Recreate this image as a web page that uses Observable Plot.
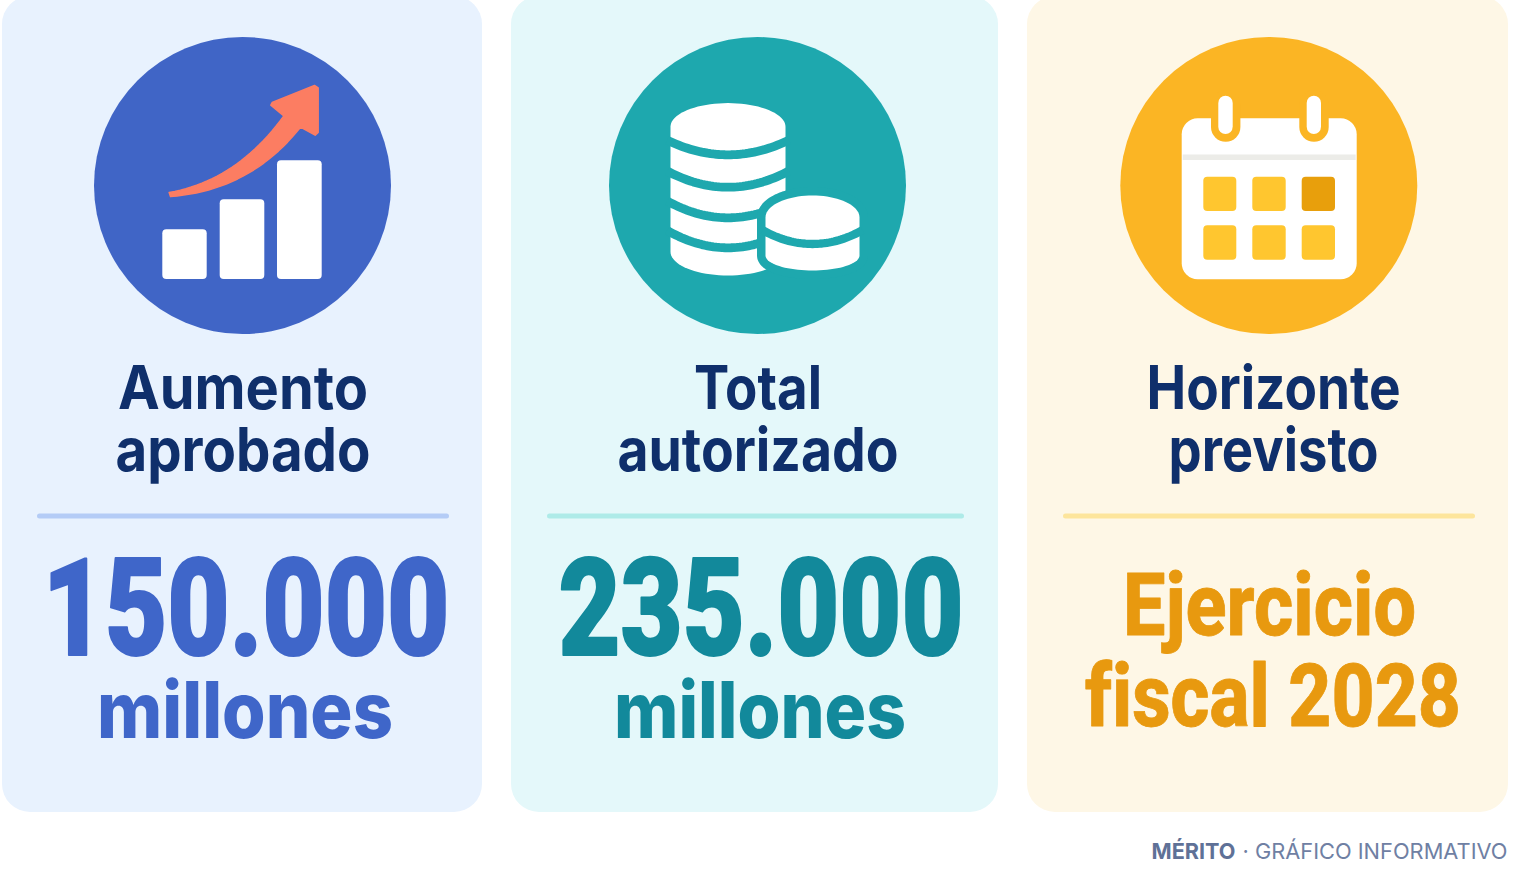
<!DOCTYPE html>
<html lang="es">
<head>
<meta charset="utf-8">
<title>Mérito</title>
<style>html,body{margin:0;padding:0;background:#fff;overflow:hidden}svg{display:block}svg text{font-variant-ligatures:none}</style>
<script src="https://cdn.jsdelivr.net/npm/d3@7"></script>
<script src="https://cdn.jsdelivr.net/npm/@observablehq/plot@0.6"></script>
</head>
<body>
<div id="chart"></div>
<script>
// ---- content ----
const titleFirst = ["Aumento", "Total", "Horizonte"];
const titleSecond = ["aprobado", "autorizado", "previsto"];
const bigValues = ["150.000", "235.000"];
const bigUnits = ["millones", "millones"];
const horizonLines = ["Ejercicio", "fiscal 2028"];
const footerBrand = "MÉRITO";
const footerRest = "· GRÁFICO INFORMATIVO";

// ---- layout and colour ----
const cardX = [[2, 482], [511, 998], [1027, 1508]];
const cardFill = ["#e8f2fe", "#e4f8fa", "#fef7e6"];
const circleX = [242, 757, 1268.3];
const circleFill = ["#4065c6", "#1ea8ae", "#fbb524"];
const ruleX = [[37, 449], [547, 964], [1063, 1475]];
const ruleFill = ["#b4ccf6", "#aeebe8", "#fde59c"];
const titleX = [242.5, 757.5, 1273];
const titleW1 = [250, 128, 254];
const titleW2 = [255, 281, 210];
const valueX = [245.5, 760.5];
const valueW = [407, 405];
const unitX = [244.5, 759.5];
const unitW = [296, 292];
const valueFill = ["#3f66c9", "#12899b"];
const horizonFill = "#e8990f";
const horizonX = [1269, 1272.5];
const horizonY = [634, 725];
const horizonW = [293, 376];
const navy = "#0f2f6b";

const fz = (ox, oy, pts) => pts.map(([x, y]) => ({x: ox + x / 3, y: oy + y / 3}));
const bez = (a, c, b) => d3.range(0, 25).map(i => {
  const t = i / 24, u = 1 - t;
  return [u * u * a[0] + 2 * u * t * c[0] + t * t * b[0], u * u * a[1] + 2 * u * t * c[1] + t * t * b[1]];
});
const arrowOutline = [
  ...bez([236, 486], [440, 450], [580, 256]),
  [541, 224], [545, 216], [672, 165], [683, 172], [683, 306], [674, 314],
  ...bez([630, 290], [480, 480], [240, 498])
];
const iconBarsX = [[162.3, 206.7], [219.7, 264.3], [277, 321.7]];
const iconBarsTop = [229.3, 199.3, 160.3];
const calCols = [[1203.3, 1236.3], [1252.3, 1285.7], [1301.7, 1335]];
const calRows = [[176.7, 211], [225.3, 259.7]];
const calCells = calRows.flatMap((r, j) => calCols.map((c, i) => ({x1: c[0], x2: c[1], y1: r[0], y2: r[1], f: (i === 2 && j === 0) ? "#e89f0c" : "#ffc62f"})));

const arc = (cx, cy, rx, ry, a0, a1) => d3.range(0, 41).map(i => {
  const a = a0 + (a1 - a0) * i / 40;
  return {x: cx + rx * Math.cos(a), y: cy + ry * Math.sin(a)};
});
const cylinder = (cx, top, bottom, rx, ryTop, ryBottom) => [
  ...arc(cx, top, rx, ryTop, Math.PI, 2 * Math.PI),
  ...arc(cx, bottom, rx, ryBottom, 0, Math.PI)
];
const band = (cx, rx, edge, centre) => d3.range(-21, 22).map(i => {
  const t = i / 20;
  return {x: cx + rx * t, y: edge + (centre - edge) * (1 - t * t)};
});

// ---- mark helpers ----
const box = (rows, o = {}) => Plot.rect(rows, {x1: "x1", x2: "x2", y1: "y1", y2: "y2", fill: "f", ...o});
const shape = (pts, o = {}) => Plot.line(pts, {x: "x", y: "y", curve: "linear-closed", strokeLinejoin: "round", ...o});
const strokeArc = (pts, stroke, strokeWidth) => Plot.line(pts, {x: "x", y: "y", stroke, strokeWidth, strokeLinecap: "butt", fill: "none"});
const words = (rows, o) => Plot.text(rows, {
  x: "x", y: "y", text: "t", fill: "f", lineAnchor: "bottom", textAnchor: "middle", ...o,
  render(index, scales, values, dims, ctx, next) {
    const g = next(index, scales, values, dims, ctx);
    d3.select(g).selectAll("text").each(function(_, i) {
      this.setAttribute("textLength", rows[index[i]].w);
      this.setAttribute("lengthAdjust", "spacingAndGlyphs");
    });
    return g;
  }
});

const titleRows = [
  ...titleFirst.map((t, i) => ({t, x: titleX[i], y: 408, w: titleW1[i], f: navy})),
  ...titleSecond.map((t, i) => ({t, x: titleX[i], y: 470, w: titleW2[i], f: navy}))
];
const valueRows = bigValues.map((t, i) => ({t, x: valueX[i], y: 654, w: valueW[i], f: valueFill[i]}));
const unitRows = bigUnits.map((t, i) => ({t, x: unitX[i], y: 737, w: unitW[i], f: valueFill[i]}));
const horizonRows = horizonLines.map((t, i) => ({t, x: horizonX[i], y: horizonY[i], w: horizonW[i], f: horizonFill}));

const chart = Plot.plot({
  width: 1536, height: 896,
  marginTop: 0, marginRight: 0, marginBottom: 0, marginLeft: 0,
  x: {domain: [0, 1536], range: [0, 1536], axis: null},
  y: {domain: [0, 896], range: [0, 896], axis: null},
  color: {type: "identity"},
  style: {background: "#fff"},
  marks: [
    box(cardX.map((c, i) => ({x1: c[0], x2: c[1], y1: -4, y2: 812, f: cardFill[i]})), {rx: 28}),
    Plot.dot(circleX.map((x, i) => ({x, f: circleFill[i]})), {x: "x", y: () => 185, r: 148.5, fill: "f", stroke: "none"}),
    box(ruleX.map((c, i) => ({x1: c[0], x2: c[1], y1: 513.5, y2: 518.5, f: ruleFill[i]})), {rx: 2.5}),

    // growth icon
    box(iconBarsX.map((c, i) => ({x1: c[0], x2: c[1], y1: iconBarsTop[i], y2: 279, f: "#fff"})), {rx: 4}),
    shape(fz(90, 30, arrowOutline), {fill: "#fc7d62", stroke: "#fc7d62", strokeWidth: 1.5}),

    // coins icon
    shape(cylinder(727.5, 126.3, 251.3, 57.5, 23.7, 23.7), {fill: "#fff"}),
    strokeArc(band(727.5, 58, 141, 154.3), "#1ea8ae", 8.8),
    strokeArc(band(727.5, 58, 172, 186.7), "#1ea8ae", 8.8),
    strokeArc(band(727.5, 58, 202, 217.3), "#1ea8ae", 8.8),
    strokeArc(band(727.5, 58, 231.5, 247.3), "#1ea8ae", 8.8),
    shape(cylinder(812, 217, 255, 47, 22, 15), {fill: "#1ea8ae", stroke: "#1ea8ae", strokeWidth: 17}),
    shape(cylinder(812, 217, 255, 47, 22, 15), {fill: "#fff"}),
    strokeArc(band(812, 47.5, 231, 243.5), "#1ea8ae", 8.3),

    // calendar icon
    box([{x1: 1181.7, x2: 1356.7, y1: 118.3, y2: 279.3, f: "#fff"}], {rx: 16}),
    box([{x1: 1182.7, x2: 1355.7, y1: 154.5, y2: 160, f: "#ecece8"}]),
    box([[1211, 1240.4], [1299.3, 1328.7]].map(c => ({x1: c[0], x2: c[1], y1: 90, y2: 141.7, f: "#fbb524"})), {rx: 14.7}),
    box([[1218.3, 1232.7], [1306.7, 1321]].map(c => ({x1: c[0], x2: c[1], y1: 95.7, y2: 134, f: "#fff"})), {rx: 7.2}),
    box(calCells, {rx: 4}),

    // texts
    words(titleRows, {fontFamily: "Inter", fontWeight: 700, fontSize: 60}),
    words(valueRows, {fontFamily: "Roboto", fontWeight: 900, fontSize: 136, stroke: "f", strokeWidth: 2}),
    words(unitRows, {fontFamily: "Inter", fontWeight: 800, fontSize: 78}),
    words(horizonRows, {fontFamily: "Roboto", fontWeight: 800, fontSize: 88, stroke: "f", strokeWidth: 0.8}),
    words([{t: footerBrand, x: 1193, y: 858.5, w: 84, f: "#5f7197"}], {fontFamily: "Inter", fontWeight: 700, fontSize: 22}),
    words([{t: footerRest, x: 1374.5, y: 858.5, w: 265, f: "#6f80a3"}], {fontFamily: "Inter", fontWeight: 400, fontSize: 22})
  ]
});
document.getElementById("chart").appendChild(chart);
</script>
</body>
</html>
